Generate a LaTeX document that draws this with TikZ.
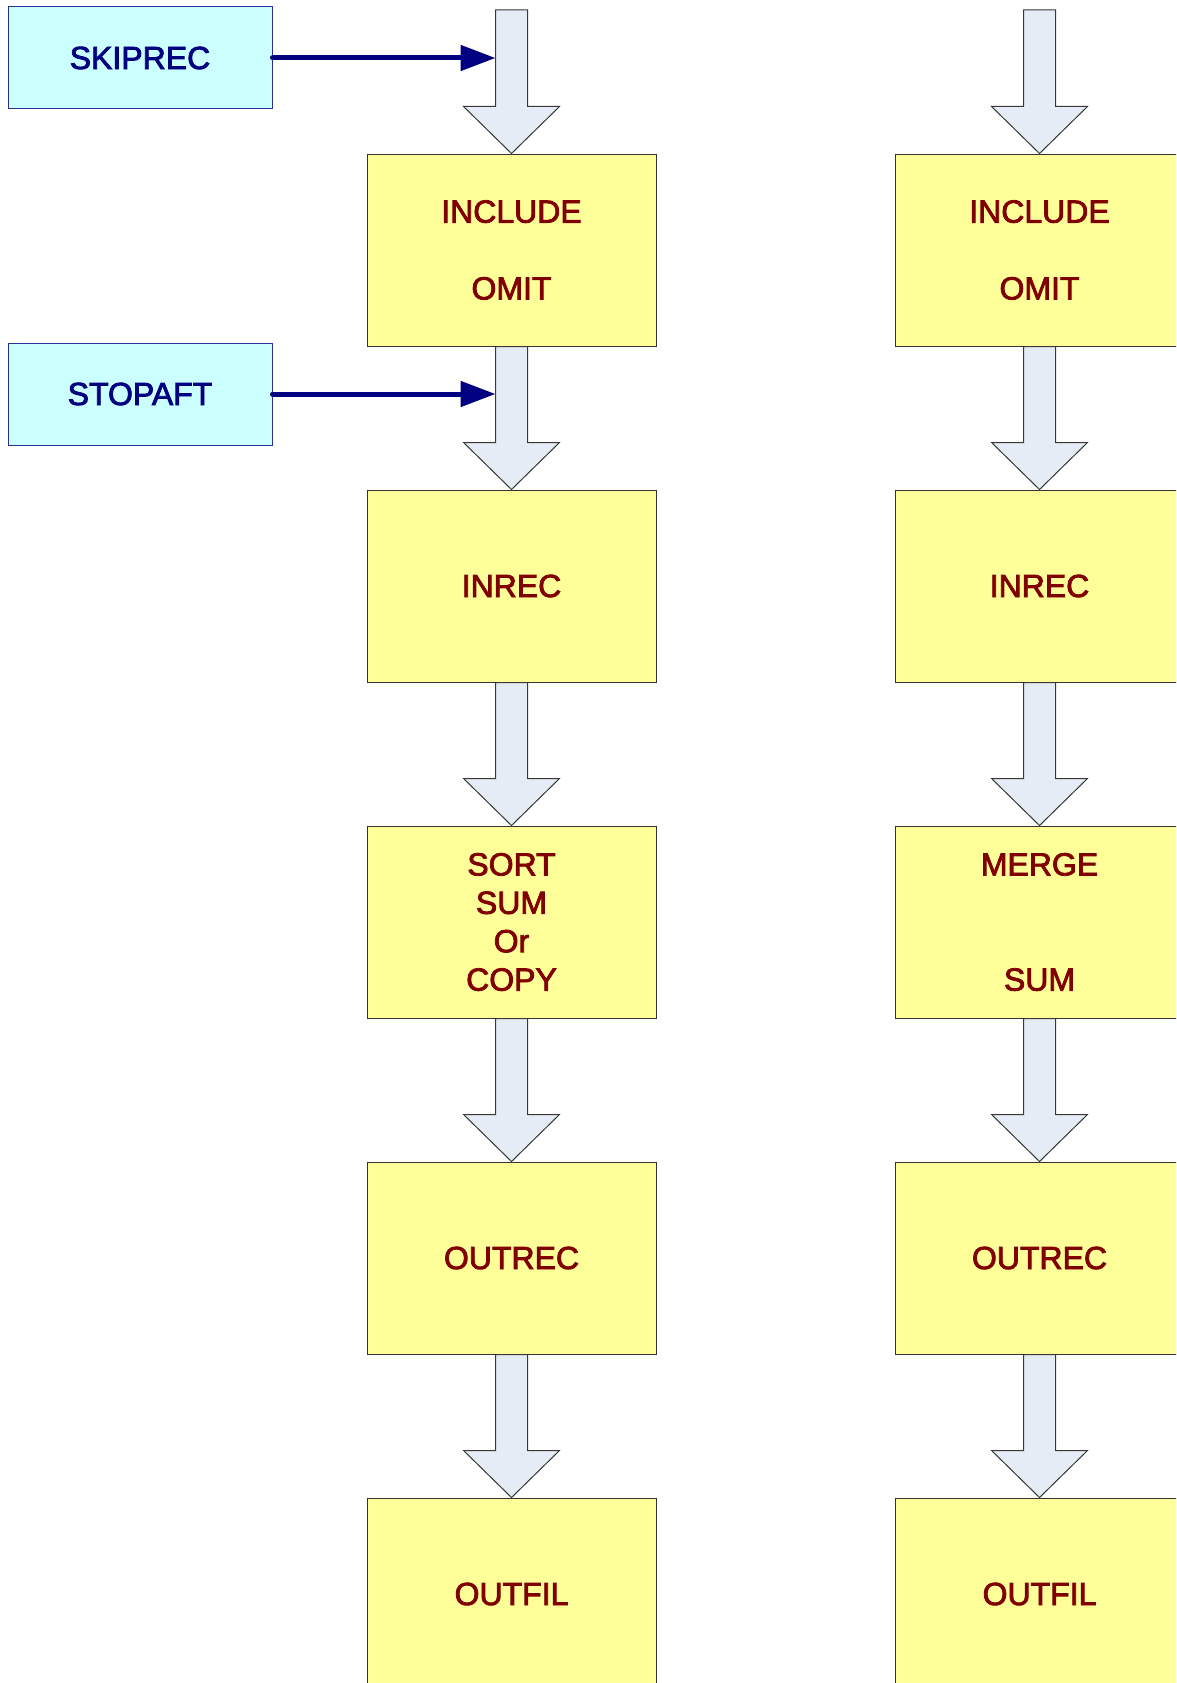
\documentclass[tikz,border=0pt]{standalone}
\usepackage{fontspec}
\setmainfont{Liberation Sans}[UprightFeatures={FakeBold=2.5}]
\usetikzlibrary{calc,arrows.meta}
\definecolor{cyanfill}{RGB}{204,255,255}
\definecolor{cyanline}{RGB}{40,50,150}
\definecolor{navytext}{RGB}{0,0,128}
\definecolor{yellowfill}{RGB}{255,255,153}
\definecolor{redtext}{RGB}{128,0,0}
\definecolor{arrowfill}{RGB}{230,236,246}
\definecolor{arrowline}{RGB}{55,55,55}
\tikzset{
  opbox/.style={draw=black!80, line width=1pt, fill=yellowfill, minimum width=289pt, minimum height=192pt, inner sep=0pt, align=center, text=redtext, font=\fontsize{32}{38.4}\selectfont},
  parmbox/.style={draw=cyanline, line width=1pt, fill=cyanfill, minimum width=264pt, minimum height=102pt, inner sep=0pt, align=center, text=navytext, font=\fontsize{32}{38.4}\selectfont},
  feed/.style={draw=navytext, line width=5pt, line cap=round, -{Triangle[length=35pt,width=25pt]}},
  flowarrow/.style={draw=arrowline, fill=arrowfill, line width=1pt, line join=miter}
}
\newcommand{\blockarrow}[2]{%
  \path[flowarrow] ($(#1)+(-16,0)$) -- ($(#2)+(-16,-47)$) -- ($(#2)+(-48,-47)$) -- (#2)
    -- ($(#2)+(48,-47)$) -- ($(#2)+(16,-47)$) -- ($(#1)+(16,0)$) -- cycle;}
\begin{document}
\begin{tikzpicture}[x=1pt,y=-1pt]
\useasboundingbox (0,0) rectangle (1176,1683);
\clip (0,0) rectangle (1176,1683);
% left column
\node[opbox] (l1) at (511.5,250) {INCLUDE\\[38.4pt]OMIT};
\node[opbox] (l2) at (511.5,586) {INREC};
\node[opbox] (l3) at (511.5,922) {SORT\\SUM\\Or\\COPY};
\node[opbox] (l4) at (511.5,1258) {OUTREC};
\node[opbox] (l5) at (511.5,1594) {OUTFIL};
% right column
\node[opbox] (r1) at (1039.5,250) {INCLUDE\\[38.4pt]OMIT};
\node[opbox] (r2) at (1039.5,586) {INREC};
\node[opbox] (r3) at (1039.5,922) {MERGE\\[76.8pt]SUM};
\node[opbox] (r4) at (1039.5,1258) {OUTREC};
\node[opbox] (r5) at (1039.5,1594) {OUTFIL};
% parameter boxes
\node[parmbox] (skip) at (140,58) {SKIPREC};
\node[parmbox] (stop) at (140,394) {STOPAFT};
% block arrows
\coordinate (ltop) at (511.5,10);
\coordinate (rtop) at (1039.5,10);
\blockarrow{ltop}{l1.north}
\blockarrow{l1.south}{l2.north}
\blockarrow{l2.south}{l3.north}
\blockarrow{l3.south}{l4.north}
\blockarrow{l4.south}{l5.north}
\blockarrow{rtop}{r1.north}
\blockarrow{r1.south}{r2.north}
\blockarrow{r2.south}{r3.north}
\blockarrow{r3.south}{r4.north}
\blockarrow{r4.south}{r5.north}
% feed arrows
\coordinate (skipin) at (495.5,58);
\coordinate (stopin) at (495.5,394);
\draw[feed] (skip.east) -- (skipin);
\draw[feed] (stop.east) -- (stopin);
\end{tikzpicture}
\end{document}
